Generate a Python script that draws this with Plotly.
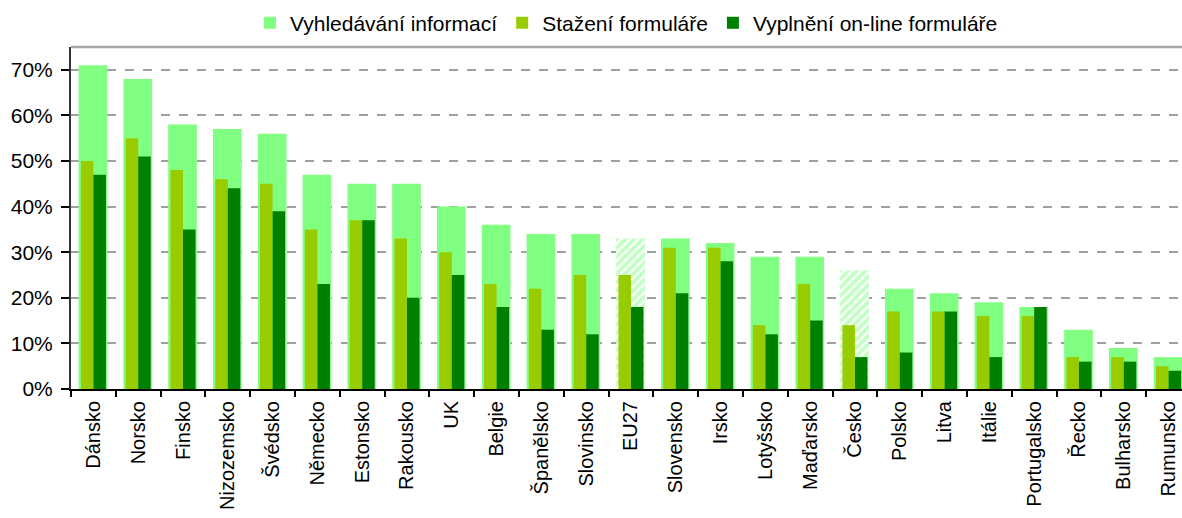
import plotly.graph_objects as go

# Podíl uživatelů e-governmentu podle typu interakce (v %)
zeme = ["Dánsko", "Norsko", "Finsko", "Nizozemsko", "Švédsko", "Německo",
        "Estonsko", "Rakousko", "UK", "Belgie", "Španělsko", "Slovinsko",
        "EU27", "Slovensko", "Irsko", "Lotyšsko", "Maďarsko", "Česko",
        "Polsko", "Litva", "Itálie", "Portugalsko", "Řecko", "Bulharsko",
        "Rumunsko"]

vyhledavani = [71, 68, 58, 57, 56, 47, 45, 45, 40, 36, 34, 34,
               33, 33, 32, 29, 29, 26, 22, 21, 19, 18, 13, 9, 7]
stazeni = [50, 55, 48, 46, 45, 35, 37, 33, 30, 23, 22, 25,
           25, 31, 31, 14, 23, 14, 17, 17, 16, 16, 7, 7, 5]
vyplneni = [47, 51, 35, 44, 39, 23, 37, 20, 25, 18, 13, 12,
            18, 21, 28, 12, 15, 7, 8, 17, 7, 18, 6, 6, 4]

y_ticks = [0, 10, 20, 30, 40, 50, 60, 70]
y_labels = [f"{v}%" for v in y_ticks]

SVETLA = "#80FF80"
ZLUTA = "#99CC00"
TMAVA = "#008000"

# EU27 a Česko jsou zvýrazněny šrafováním
srafovane = {"EU27", "Česko"}
vzor = ["/" if z in srafovane else "" for z in zeme]
pozadi = ["white" if z in srafovane else SVETLA for z in zeme]

fig = go.Figure()
fig.add_trace(go.Bar(
    x=zeme, y=vyhledavani, name="Vyhledávání informací",
    width=0.64, offset=-0.33,
    marker=dict(color=SVETLA, line_width=0,
                pattern=dict(shape=vzor, fgcolor=SVETLA, bgcolor=pozadi,
                             size=6, solidity=0.6)),
))
fig.add_trace(go.Bar(
    x=zeme, y=stazeni, name="Stažení formuláře",
    width=0.28, offset=-0.28,
    marker=dict(color=ZLUTA, line_width=0),
))
fig.add_trace(go.Bar(
    x=zeme, y=vyplneni, name="Vyplnění on-line formuláře",
    width=0.28, offset=0.0,
    marker=dict(color=TMAVA, line_width=0),
))

fig.update_layout(
    width=1182, height=518,
    margin=dict(l=71, r=0, t=47, b=129),
    barmode="overlay",
    plot_bgcolor="white", paper_bgcolor="white",
    font=dict(family="Liberation Sans, Arial, sans-serif", color="black", size=21),
    legend=dict(orientation="h", x=0.5, xanchor="center", y=1.01, yanchor="bottom",
                font=dict(size=21), itemwidth=30, tracegroupgap=0,
                bgcolor="rgba(0,0,0,0)"),
    showlegend=True,
)

fig.update_xaxes(
    type="category", range=[-0.5, 24.3], automargin=False,
    tickangle=-90, tickson="boundaries",
    ticks="outside", ticklen=6, tickwidth=1.5, tickcolor="black",
    ticklabelstandoff=2,
    showline=True, linecolor="black", linewidth=2,
    showgrid=False, tickfont=dict(size=20),
)
fig.update_yaxes(
    range=[0, 75], tickmode="array", tickvals=y_ticks, ticktext=y_labels,
    automargin=False,
    ticks="outside", ticklen=8, tickwidth=1.5, tickcolor="black",
    ticklabelstandoff=4,
    showline=True, linecolor="#333333", linewidth=2,
    showgrid=True, gridcolor="#A0A0A0", gridwidth=1.5, griddash="dash",
    zeroline=False, tickfont=dict(size=21),
)

# horní okraj oblasti grafu
fig.add_shape(type="line", xref="paper", yref="paper", x0=0, x1=1, y0=1, y1=1,
              line=dict(color="#A8A8A8", width=2.5))

fig.write_html("out.html")
